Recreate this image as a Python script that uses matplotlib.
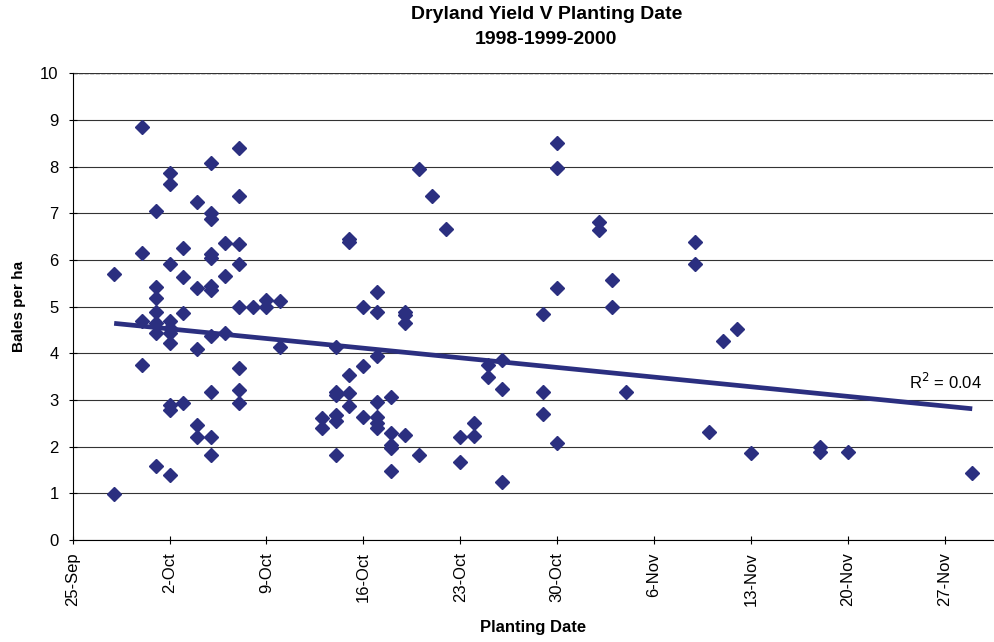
import numpy as np
import matplotlib.pyplot as plt
import matplotlib.dates as mdates
from datetime import datetime

plt.rcParams['font.family'] = ['Liberation Sans', 'DejaVu Sans']

# planting date (day-month) and dryland yield (bales/ha), 1998-2000 trials
plant_date = (
    ['28-Sep'] * 2 + ['30-Sep'] * 4 + ['1-Oct'] * 7 + ['2-Oct'] * 10 +
    ['3-Oct'] * 4 + ['4-Oct'] * 5 + ['5-Oct'] * 11 + ['6-Oct'] * 3 +
    ['7-Oct'] * 8 + ['8-Oct'] + ['9-Oct'] * 2 + ['10-Oct'] * 2 +
    ['13-Oct'] * 2 + ['14-Oct'] * 6 + ['15-Oct'] * 5 + ['16-Oct'] * 3 +
    ['17-Oct'] * 7 + ['18-Oct'] * 5 + ['19-Oct'] * 4 + ['20-Oct'] * 2 +
    ['21-Oct'] + ['22-Oct'] + ['23-Oct'] * 2 + ['24-Oct'] * 2 +
    ['25-Oct'] * 2 + ['26-Oct'] * 3 + ['29-Oct'] * 3 + ['30-Oct'] * 4 +
    ['2-Nov'] * 2 + ['3-Nov'] * 2 + ['4-Nov'] + ['9-Nov'] * 2 +
    ['10-Nov'] + ['11-Nov'] + ['12-Nov'] + ['13-Nov'] + ['18-Nov'] * 2 +
    ['20-Nov'] + ['29-Nov']
)
yields = [
    5.69, 0.99,
    8.85, 6.14, 4.68, 3.75,
    7.04, 5.41, 5.18, 4.89, 4.64, 4.43, 1.59,
    7.86, 7.62, 5.91, 4.68, 4.55, 4.43, 4.21, 2.89, 2.79, 1.39,
    6.26, 5.64, 4.86, 2.93,
    7.25, 5.39, 4.09, 2.46, 2.21,
    8.08, 7.01, 6.87, 6.12, 6.05, 5.43, 5.36, 4.36, 3.18, 2.21, 1.82,
    6.36, 5.66, 4.43,
    8.39, 7.37, 6.34, 5.91, 5.00, 3.68, 3.21, 2.93,
    5.00,
    5.14, 5.00,
    5.11, 4.14,
    2.61, 2.39,
    4.14, 3.18, 3.10, 2.68, 2.54, 1.81,
    6.45, 6.39, 3.54, 3.14, 2.86,
    5.00, 3.73, 2.64,
    5.31, 4.89, 3.93, 2.96, 2.64, 2.50, 2.39,
    3.06, 2.30, 2.04, 1.96, 1.48,
    4.89, 4.82, 4.64, 2.25,
    7.94, 1.81,
    7.36,
    6.66,
    2.21, 1.66,
    2.51, 2.23,
    3.75, 3.49,
    3.86, 3.24, 1.24,
    4.84, 3.18, 2.70,
    8.50, 7.96, 5.39, 2.07,
    6.82, 6.64,
    5.56, 5.00,
    3.16,
    6.39, 5.91,
    2.32,
    4.27,
    4.51,
    1.87,
    2.00, 1.89,
    1.89,
    1.43,
]

# linear trendline (as fitted in the original workbook)
trend_date = ['28-Sep', '29-Nov']
trend_yield = [4.64, 2.81]
r2_label = 'R$^2$ = 0.04'

navy = '#2b2f80'


def to_num(d):
    return mdates.date2num(datetime.strptime(d + '-2000', '%d-%b-%Y'))


x = np.array([to_num(d) for d in plant_date])
y = np.array(yields)

fig = plt.figure(figsize=(9.95, 6.42), dpi=100)
ax = fig.add_axes([0.073, 0.159, 0.925, 0.727])

ax.plot(x, y, linestyle='none', marker='D', markersize=7, color=navy, zorder=3)

ax.plot([to_num(d) for d in trend_date], trend_yield, color=navy, lw=3.4,
        solid_capstyle='butt', zorder=2)
ax.text(to_num('24-Nov') + 0.4, 3.39, r2_label, fontsize=12, va='center')

x0 = to_num('25-Sep')
ax.set_xlim(x0, x0 + 66.5)
ax.set_ylim(0, 10)
ax.set_xticks([x0 + 7 * i for i in range(10)])
ax.xaxis.set_major_formatter(mdates.DateFormatter('%-d-%b'))
ax.set_yticks(range(0, 11))
ax.tick_params(axis='x', rotation=90, labelsize=12, length=6, direction='inout', pad=6)
ax.tick_params(axis='y', labelsize=12, length=6, direction='inout', pad=7)

ax.grid(axis='y', color='#333333', lw=0.8)
for s in ['top', 'right']:
    ax.spines[s].set_visible(False)
ax.axhline(10, color='#333333', lw=1.0, ls=(0, (3, 1)))

ax.set_xlabel('Planting Date', fontsize=12, fontweight='bold', labelpad=10)
ax.set_ylabel('Bales per ha', fontsize=11, fontweight='bold', labelpad=10)
fig.text(0.549, 0.99, 'Dryland Yield V Planting Date\n1998-1999-2000',
         ha='center', va='top', fontsize=14, fontweight='bold', linespacing=1.6)

fig.savefig('out.png', dpi=100)
